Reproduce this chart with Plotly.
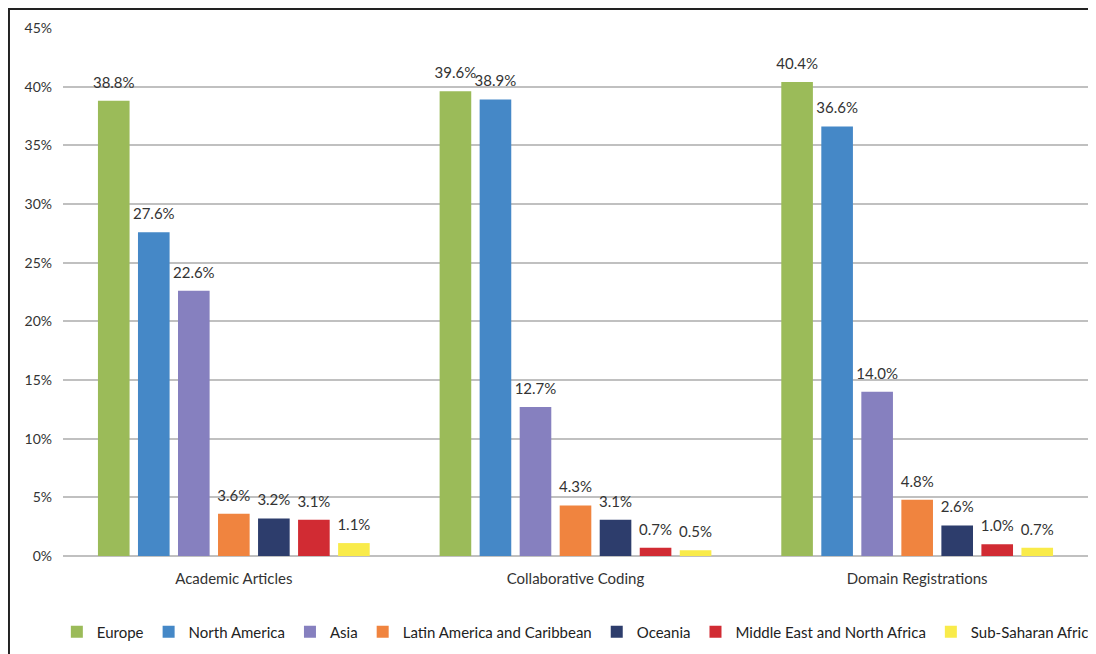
import plotly.graph_objects as go

categories = ["Academic Articles", "Collaborative Coding", "Domain Registrations"]
regions = ["Europe", "North America", "Asia", "Latin America and Caribbean",
           "Oceania", "Middle East and North Africa", "Sub-Saharan Africa"]
europe = [38.8, 39.6, 40.4]
north_america = [27.6, 38.9, 36.6]
asia = [22.6, 12.7, 14.0]
latin_america = [3.6, 4.3, 4.8]
oceania = [3.2, 3.1, 2.6]
mena = [3.1, 0.7, 1.0]
ssa = [1.1, 0.5, 0.7]
series = [europe, north_america, asia, latin_america, oceania, mena, ssa]
colors = ["#9BBB59", "#4588C7", "#8680BF", "#F0843F", "#2D3D6C", "#D12B33", "#F9EB4A"]
y_ticks = [0, 5, 10, 15, 20, 25, 30, 35, 40, 45]

FONT = "Lato"

fig = go.Figure()
for name, vals, col in zip(regions, series, colors):
    fig.add_trace(go.Bar(
        name=name, x=categories, y=vals,
        marker=dict(color=col, line=dict(width=0)),
        text=[f"<span style='font-size:15px'>{v:.1f}%</span><br>&#160;" for v in vals],
        textposition="outside",
        constraintext="none",
        cliponaxis=False,
        textfont=dict(family=FONT, size=7, color="#333333"),
    ))

fig.update_layout(
    width=1088, height=646,
    margin=dict(l=55, r=8, t=20, b=98, autoexpand=False),
    paper_bgcolor="white", plot_bgcolor="white",
    barmode="group", bargap=0.18, bargroupgap=0.21,
    font=dict(family=FONT, size=14, color="#333333"),
    showlegend=True,
    legend=dict(orientation="h", x=-0.006, xanchor="left",
                y=-0.144, yanchor="middle",
                font=dict(family=FONT, size=15, color="#222222"),
                itemwidth=30, tracegroupgap=0, traceorder="normal"),
    xaxis=dict(showline=False, ticks="", ticklabelstandoff=12,
               tickfont=dict(family=FONT, size=15, color="#333333")),
    yaxis=dict(range=[0, 45], tickvals=y_ticks, ticktext=[f"{t}%" for t in y_ticks],
               showgrid=True, gridcolor="#C0C0C0", gridwidth=1.5,
               zeroline=True, zerolinecolor="#C0C0C0", zerolinewidth=1.5,
               showline=False, ticks="", ticklabelstandoff=10,
               tickfont=dict(family=FONT, size=14, color="#333333")),
    shapes=[
        dict(type="line", xref="paper", yref="paper", x0=-0.0532, x1=1.02, y0=1.0369, y1=1.0369,
             line=dict(color="#222222", width=3)),
        dict(type="line", xref="paper", yref="paper", x0=-0.0532, x1=-0.0532, y0=1.0397, y1=-0.2,
             line=dict(color="#222222", width=3)),
    ],
)

fig.write_html("out.html")
